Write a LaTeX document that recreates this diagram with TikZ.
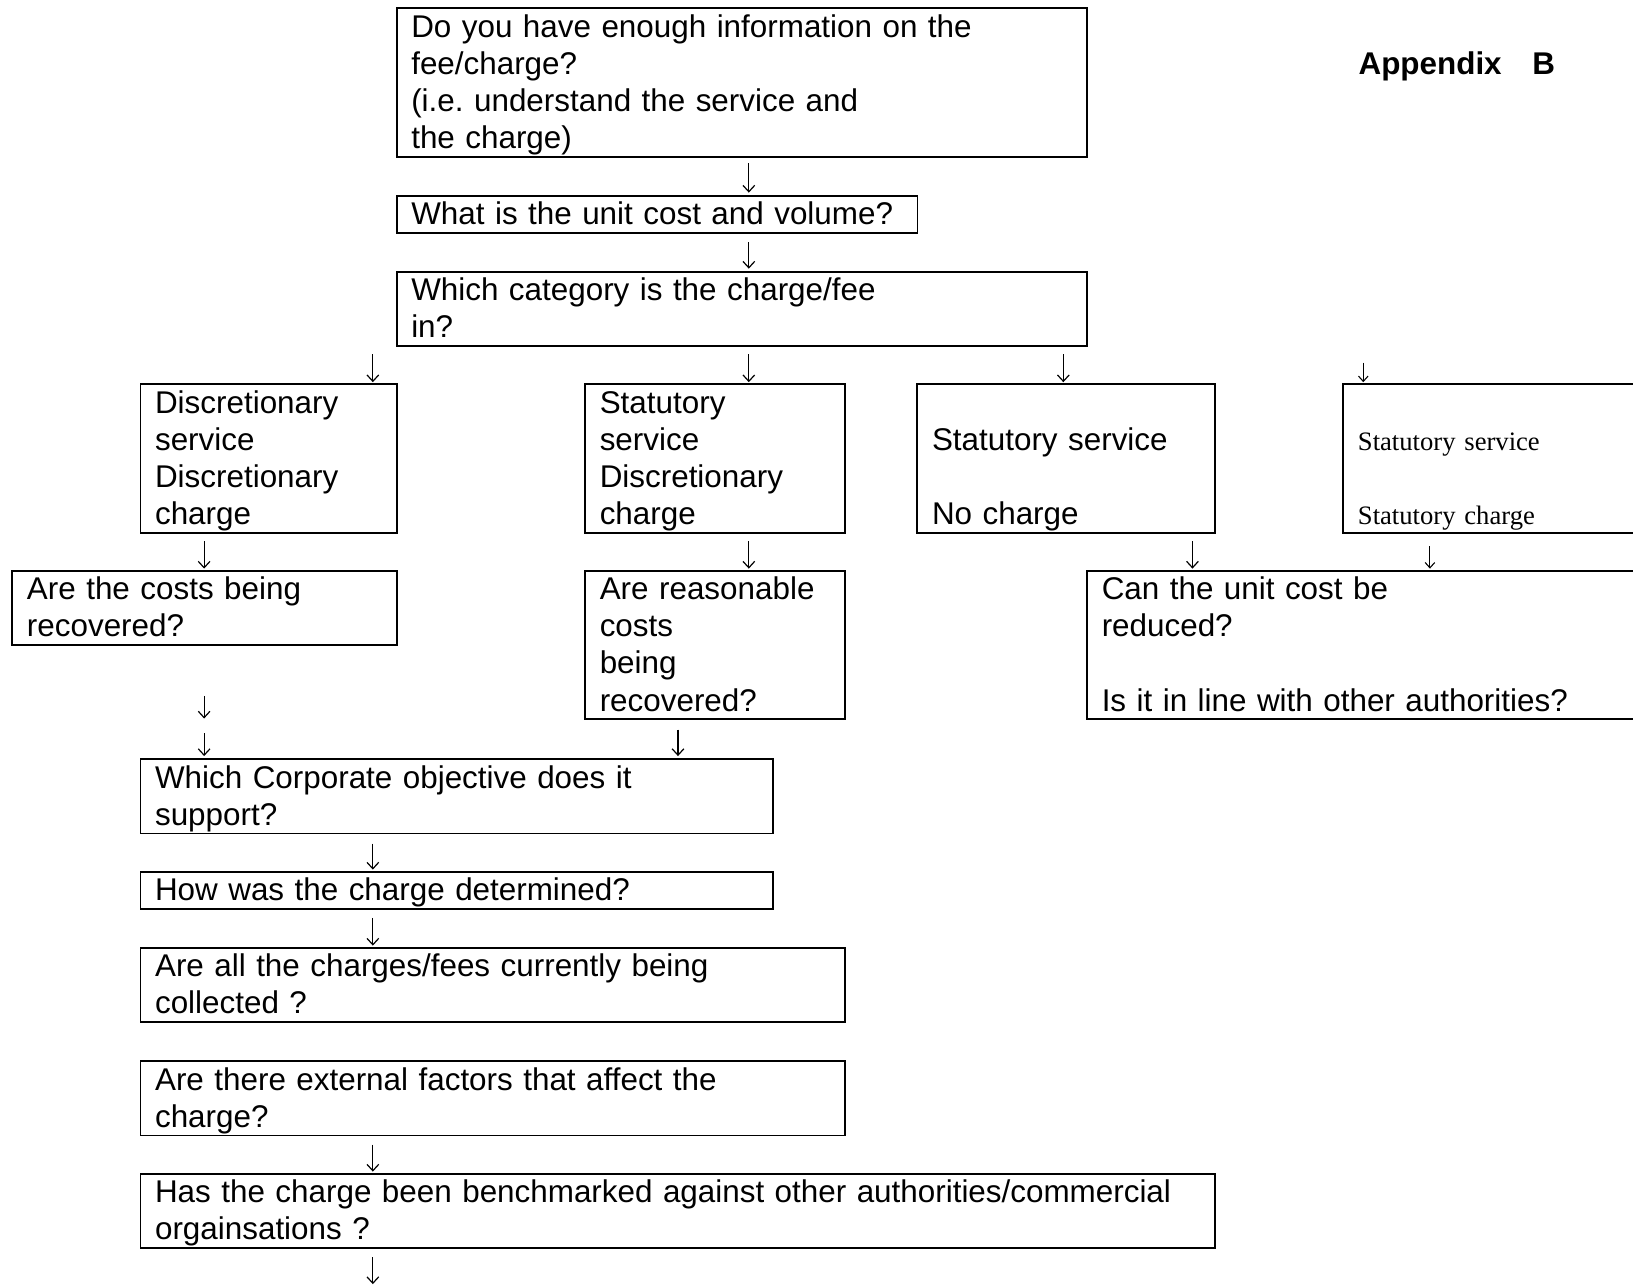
\documentclass[tikz,border=0pt]{standalone}
\usepackage{fontspec}
\setmainfont{Liberation Sans}
\newfontfamily\serifface{Liberation Serif}
\usetikzlibrary{arrows.meta}
\newcommand\linestrut{\rule[-3.1pt]{0pt}{13.97pt}}
\frenchspacing

\begin{document}
\begin{tikzpicture}[x=0.3913pt, y=-0.3913pt,
    box/.style={draw, line width=0.7pt, anchor=north west, align=left, inner xsep=5.48pt, inner ysep=0pt,
        font=\fontsize{11.8}{13.97}\selectfont, execute at begin node=\linestrut, execute at end node=\linestrut},
    flow/.style={line width=0.45pt, -{Straight Barb[length=2.4pt, width=4.4pt]}},
    flow small/.style={line width=0.4pt, -{Straight Barb[length=2pt, width=3.6pt]}}]
        \path[use as bounding box] (0,0) rectangle (1568,1233);
        \clip (0,0) rectangle (1568,1233);

        \node[box, text width=248.5pt] (info) at (380,7) {Do you have enough information on the\\fee/charge?\\(i.e. understand the service and\\the charge)};
        \node[box, text width=184.7pt] (unitcost) at (380,187) {What is the unit cost and volume?};
        \node[box, text width=248.5pt] (category) at (380,260) {Which category is the charge/fee\\in?};

        \node[box, text width=85.3pt] (discdisc) at (134,368) {Discretionary\\service\\Discretionary\\charge};
        \node[box, text width=86.5pt] (statdisc) at (561,368) {Statutory\\service\\Discretionary\\charge};
        \node[box, text width=101pt] (statnone) at (880,368) {\mbox{}\\Statutory service\\\mbox{}\\No charge};
        \node[box, text width=106.4pt, font=\serifface\fontsize{10}{13.97}\selectfont] (statstat) at (1289,368) {\mbox{}\\Statutory service\\\mbox{}\\Statutory charge};

        \node[box, text width=133.4pt] (recovered) at (11,547) {Are the costs being\\recovered?};
        \node[box, text width=86.5pt] (reasonable) at (561,547) {Are reasonable\\costs\\being\\recovered?};
        \node[box, text width=208.2pt] (reduce) at (1043,547) {Can the unit cost be\\reduced?\\\mbox{}\\Is it in line with other authorities?};

        \node[box, text width=226.6pt] (objective) at (134,728) {Which Corporate objective does it\\support?};
        \node[box, text width=226.6pt] (determined) at (134,836) {How was the charge determined?};
        \node[box, text width=253.6pt] (collected) at (134,909) {Are all the charges/fees currently being\\collected ?};
        \node[box, text width=253.6pt] (external) at (134,1018) {Are there external factors that affect the\\charge?};
        \node[box, text width=392.9pt] (benchmark) at (134,1126) {Has the charge been benchmarked against other authorities/commercial\\orgainsations ?};

        \node[anchor=base west, inner sep=0pt, font=\bfseries\fontsize{11.8}{14}\selectfont] (appendix) at (1304,72) {Appendix\hspace{11.5pt}B};

        \coordinate (colA) at (196,0);
        \coordinate (colB) at (358,0);
        \coordinate (colC) at (651,0);
        \coordinate (colD) at (719,0);
        \coordinate (colE) at (1021,0);
        \coordinate (colF) at (1145,0);
        \coordinate (colG) at (1309,0);
        \coordinate (colH) at (1373,0);
        \coordinate (tail) at (358,1233);

        \foreach \from/\to/\col/\gapa/\gapb in {
            info/unitcost/colD/2pt/0.8pt,
            unitcost/category/colD/3.1pt/0.8pt,
            category/discdisc/colB/2.7pt/0.4pt,
            category/statdisc/colD/2.7pt/0.4pt,
            category/statnone/colE/2.7pt/0.4pt,
            discdisc/recovered/colA/2.7pt/0.4pt,
            statdisc/reasonable/colD/2.7pt/0.4pt,
            statnone/reduce/colF/2.7pt/0.4pt,
            recovered/objective/colA/18.8pt/14.9pt,
            recovered/objective/colA/32.9pt/0.8pt,
            reasonable/objective/colC/3.5pt/0.8pt,
            objective/determined/colB/3.5pt/0.4pt,
            determined/collected/colB/3.1pt/0.4pt,
            external/benchmark/colB/3.1pt/0.4pt}
            \draw[flow, shorten <=\gapa, shorten >=\gapb] (\from.south -| \col) -- (\to.north -| \col);

        \draw[flow small, shorten <=5.9pt, shorten >=0.4pt] (category.south -| colG) -- (statstat.north -| colG);
        \draw[flow small, shorten <=4.7pt, shorten >=0.4pt] (statstat.south -| colH) -- (reduce.north -| colH);
        \draw[flow, shorten <=3.1pt] (benchmark.south -| colB) -- (tail);
    \end{tikzpicture}
\end{document}
